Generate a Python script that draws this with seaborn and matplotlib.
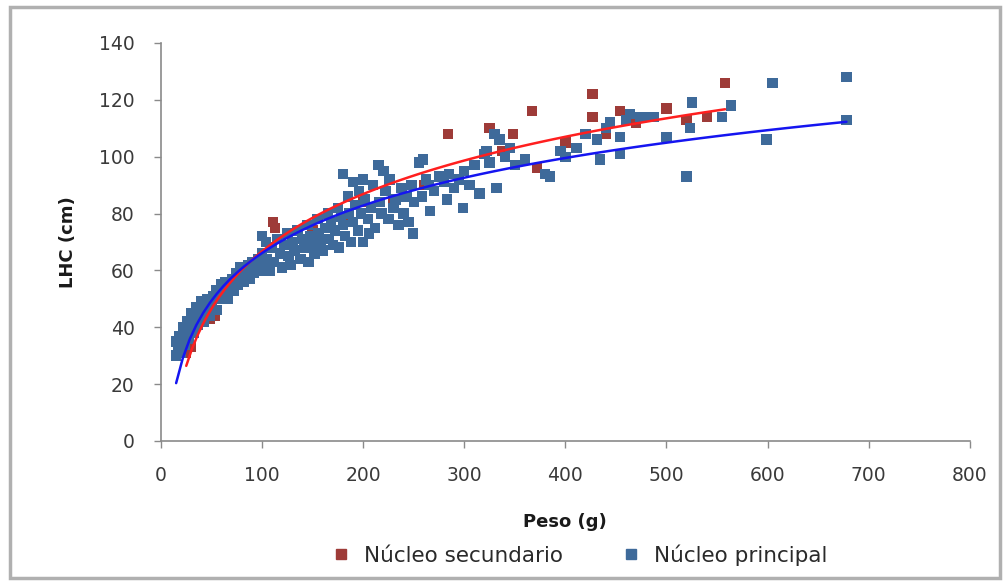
import numpy as np
import pandas as pd
import matplotlib
matplotlib.use("Agg")
import matplotlib.pyplot as plt
from matplotlib.patches import Rectangle
from matplotlib.lines import Line2D
import seaborn as sns

# ---------------- data ----------------
principal_x = [15, 15, 17, 18, 20, 20, 22, 24, 25, 26, 28, 30, 30, 32, 33, 35, 36, 38, 40, 40,
               42, 45, 46, 48, 50, 52, 55, 55, 58, 60, 62, 64, 66, 68, 70, 72, 74, 76, 78, 80,
               82, 84, 86, 88, 90, 92, 94, 96, 98, 100, 100, 102, 104, 105, 108, 110, 112, 115, 118, 120,
               122, 125, 126, 128, 130, 132, 135, 138, 140, 142, 145, 146, 148, 150, 152, 155, 156, 158, 160, 162,
               165, 166, 168, 170, 172, 175, 176, 178, 180, 180, 182, 185, 186, 188, 190, 190, 192, 195, 196, 198,
               200, 200, 202, 205, 206, 208, 210, 212, 215, 216, 218, 220, 222, 225, 226, 230, 232, 235, 238, 240,
               243, 245, 248, 249, 250, 255, 258, 259, 262, 265, 266, 270, 275, 280, 283, 285, 290, 295, 299, 300,
               305, 310, 315, 320, 322, 325, 330, 332, 335, 340, 345, 350, 360, 380, 385, 395, 400, 411, 420, 431,
               434, 440, 444, 454, 454, 460, 464, 474, 484, 487, 500, 520, 523, 525, 555, 564, 599, 605, 678, 678]
principal_y = [30, 35, 33, 37, 31, 36, 40, 34, 38, 42, 36, 40, 45, 38, 43, 47, 41, 44, 49, 45,
               42, 47, 50, 44, 48, 51, 46, 53, 50, 55, 52, 56, 50, 54, 57, 53, 59, 55, 61, 58,
               56, 60, 62, 57, 63, 59, 61, 64, 60, 72, 66, 62, 70, 64, 60, 68, 63, 71, 66, 61,
               69, 73, 65, 62, 70, 67, 74, 64, 71, 68, 76, 63, 72, 69, 66, 78, 73, 70, 67, 75,
               80, 71, 77, 69, 74, 82, 68, 79, 94, 76, 72, 86, 80, 70, 91, 77, 83, 74, 88, 80,
               92, 70, 85, 78, 73, 82, 90, 75, 97, 84, 80, 95, 88, 78, 92, 82, 85, 76, 89, 80,
               86, 77, 90, 73, 84, 98, 86, 99, 92, 90, 81, 88, 93, 91, 85, 94, 89, 92, 82, 95,
               90, 97, 87, 101, 102, 98, 108, 89, 106, 100, 103, 97, 99, 94, 93, 102, 100, 103, 108, 106,
               99, 110, 112, 107, 101, 113, 115, 114, 114, 114, 107, 93, 110, 119, 114, 118, 106, 126, 128, 113]

secundario_x = [25, 30, 42, 48, 53, 70, 90, 111, 113, 130, 150, 180, 200, 230, 260, 284, 300, 315,
                325, 338, 348, 350, 367, 372, 395, 400, 427, 427, 434, 440, 454, 454, 470, 500, 520, 540, 558]
secundario_y = [31, 33, 46, 43, 44, 55, 62, 77, 75, 70, 74, 78, 84, 85, 90, 108, 95, 87,
                110, 102, 108, 97, 116, 96, 102, 105, 122, 114, 99, 108, 116, 107, 112, 117, 113, 114, 126]

series_names = ["Núcleo secundario", "Núcleo principal"]
x_ticks = [0, 100, 200, 300, 400, 500, 600, 700, 800]
y_ticks = [0, 20, 40, 60, 80, 100, 120, 140]

df_sec = pd.DataFrame({"Peso": secundario_x, "LHC": secundario_y})
df_pri = pd.DataFrame({"Peso": principal_x, "LHC": principal_y})

# ---------------- style ----------------
sns.set_theme(style="white")
plt.rcParams["font.family"] = ["DejaVu Sans"]

red_mk = "#9E3B38"
blue_mk = "#3E6A9A"
red_ln = "#FF1F1F"
blue_ln = "#1515F0"

fig = plt.figure(figsize=(10.06, 5.81), dpi=100)
ax = fig.add_axes([0.160, 0.241, 0.804, 0.685])

sns.scatterplot(data=df_sec, x="Peso", y="LHC", marker="s", s=56, color=red_mk,
                edgecolor="none", ax=ax, zorder=2)
sns.scatterplot(data=df_pri, x="Peso", y="LHC", marker="s", s=56, color=blue_mk,
                edgecolor="none", ax=ax, zorder=3)
sns.regplot(data=df_sec, x="Peso", y="LHC", logx=True, scatter=False, ci=None,
            color=red_ln, line_kws={"lw": 1.8, "zorder": 4}, ax=ax)
sns.regplot(data=df_pri, x="Peso", y="LHC", logx=True, scatter=False, ci=None,
            color=blue_ln, line_kws={"lw": 1.8, "zorder": 5}, ax=ax)

ax.set_xlim(0, 800)
ax.set_ylim(0, 140)
ax.set_xticks(x_ticks)
ax.set_yticks(y_ticks)
for sp in ["top", "right"]:
    ax.spines[sp].set_visible(False)
for sp in ["left", "bottom"]:
    ax.spines[sp].set_color("#8a8a8a")
    ax.spines[sp].set_linewidth(1.2)
ax.tick_params(axis="both", direction="out", length=5, width=1, color="#8a8a8a",
               labelsize=13.5, labelcolor="#3a3a3a", bottom=True, left=True)
ax.tick_params(axis="y", pad=14)
ax.tick_params(axis="x", pad=13)
ax.set_xlabel("Peso (g)", fontsize=13, fontweight="bold", color="#1a1a1a", labelpad=20)
ax.set_ylabel("LHC (cm)", fontsize=13, fontweight="bold", color="#1a1a1a", labelpad=16)
ax.grid(False)

handles = [Line2D([], [], marker="s", linestyle="none", color=red_mk, markersize=7),
           Line2D([], [], marker="s", linestyle="none", color=blue_mk, markersize=7)]
fig.legend(handles, series_names, loc="center", bbox_to_anchor=(0.570, 0.045), ncol=2,
           frameon=False, fontsize=15.5, handletextpad=0.05, columnspacing=2.2,
           labelcolor="#2a2a2a")

fig.patches.append(Rectangle((0.010, 0.006), 0.984, 0.982, transform=fig.transFigure,
                             fill=False, edgecolor="#b0b0b0", linewidth=2.5))

fig.savefig("out.png", dpi=100)
